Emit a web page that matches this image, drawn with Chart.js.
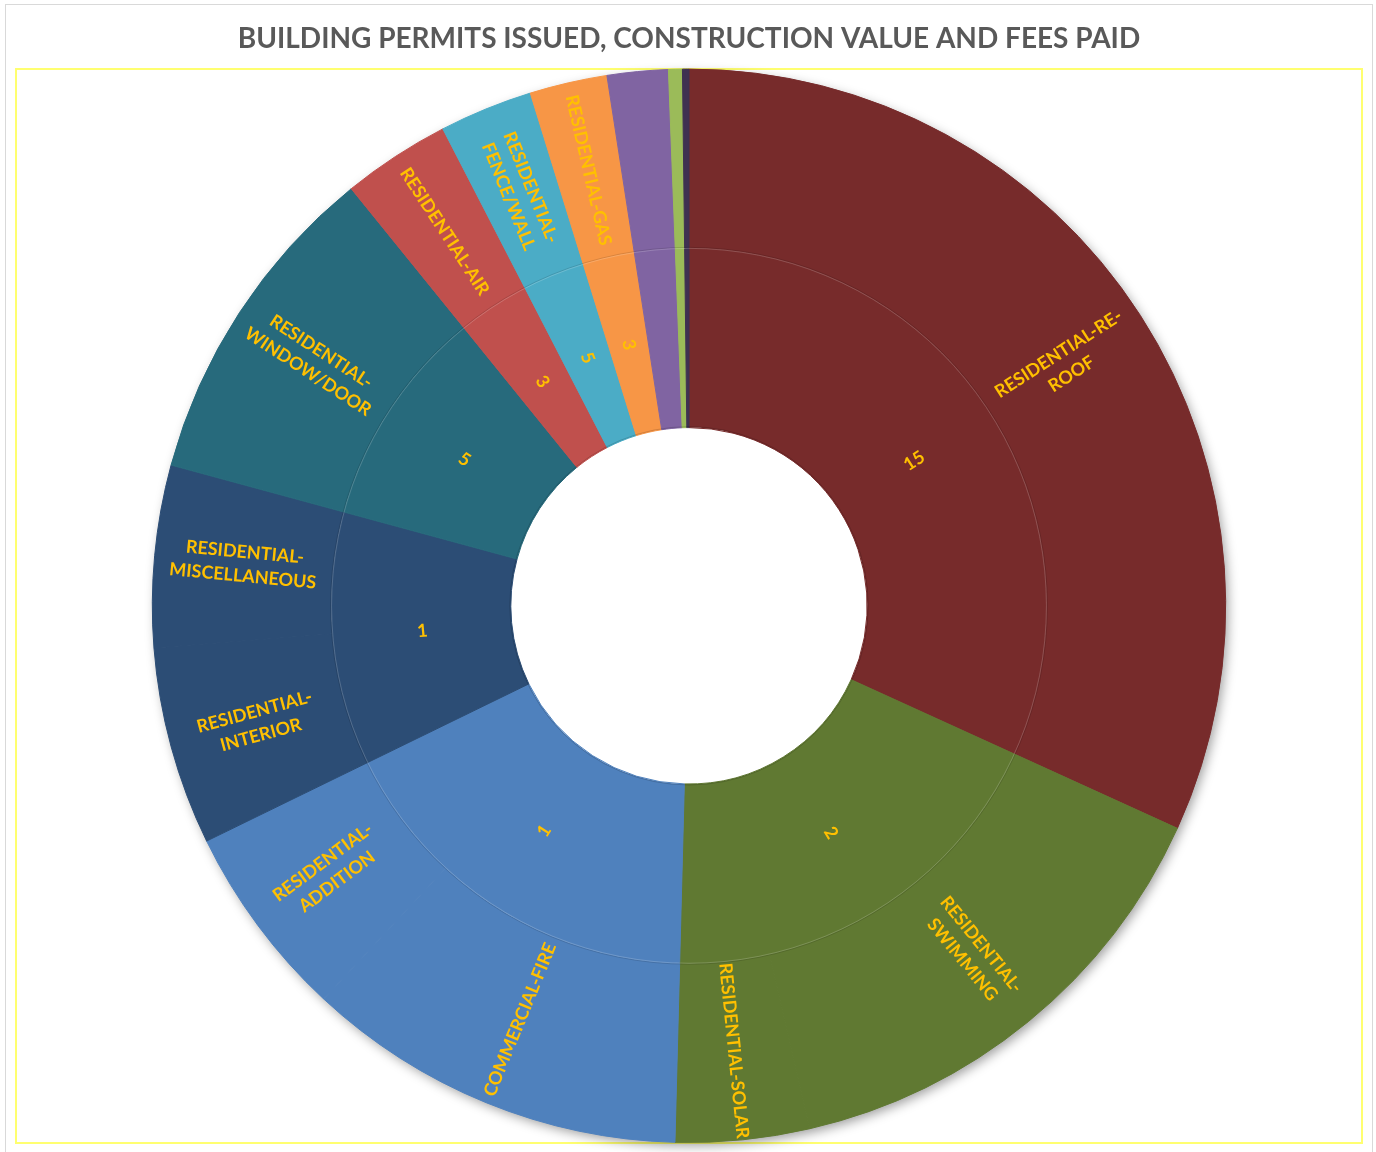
<!DOCTYPE html>
<html>
<head>
<meta charset="utf-8">
<script src="https://cdn.jsdelivr.net/npm/chart.js@4"></script>
<style>
  body { margin: 0; background: #fff; }
  #wrap { width: 1376px; height: 1152px; }
</style>
</head>
<body>
<div id="wrap"><canvas id="sunburst" width="1376" height="1152"></canvas></div>
<script>
// outer ring: permit types (share of construction value)
const typeLabels = [
    ['RESIDENTIAL-RE-', 'ROOF'],
    ['RESIDENTIAL-', 'SWIMMING'],
    ['RESIDENTIAL-SOLAR'],
    ['COMMERCIAL-FIRE'],
    ['RESIDENTIAL-', 'ADDITION'],
    ['RESIDENTIAL-', 'INTERIOR'],
    ['RESIDENTIAL-', 'MISCELLANEOUS'],
    ['RESIDENTIAL-', 'WINDOW/DOOR'],
    ['RESIDENTIAL-AIR'],
    ['RESIDENTIAL-', 'FENCE/WALL'],
    ['RESIDENTIAL-GAS'],
    [], [], []
];
const typeValues = [114.5, 52.5, 14.5, 41.4, 21.1, 21.5, 19.7, 35.8, 11.7, 10.1, 8.4, 6.6, 1.5, 0.7];
const typeColors = ['#772b2b', '#607932', '#607932', '#4f81bd', '#4f81bd', '#2c4d75', '#2c4d75',
    '#276a7c', '#c0504d', '#4bacc6', '#f79646', '#8064a2', '#9bbb59', '#3f3151'];

// inner ring: permits issued
const permitLabels = ['15', '2', '1', '1', '5', '3', '5', '3', '', '', ''];
const permitValues = [114.5, 67.0, 62.5, 41.2, 35.8, 11.7, 10.1, 8.4, 6.6, 1.5, 0.7];
const permitColors = ['#772b2b', '#607932', '#4f81bd', '#2c4d75', '#276a7c', '#c0504d',
    '#4bacc6', '#f79646', '#8064a2', '#9bbb59', '#3f3151'];

const labelFont = 'bold 18px Lato, "Open Sans", sans-serif';

const framePlugin = {
    id: 'frame',
    beforeDraw(chart) {
        const ctx = chart.ctx;
        ctx.save();
        ctx.strokeStyle = '#d9d9d9';
        ctx.lineWidth = 1;
        ctx.strokeRect(5.5, 4.5, 1367, 1160);
        ctx.strokeStyle = '#ffff70';
        ctx.lineWidth = 2;
        ctx.strokeRect(16, 69, 1346, 1074);
        ctx.restore();
    }
};

// soft drop shadow behind the whole sunburst, and a faint seam between the rings
const shadowPlugin = {
    id: 'ringShadow',
    beforeDatasetsDraw(chart) {
        const outer = chart.getDatasetMeta(0).data[0];
        if (!outer) return;
        const p = outer.getProps(['x', 'y', 'outerRadius'], true);
        const ctx = chart.ctx;
        ctx.save();
        ctx.shadowColor = 'rgba(0, 0, 0, 0.4)';
        ctx.shadowBlur = 12;
        ctx.shadowOffsetX = 3;
        ctx.shadowOffsetY = 4;
        ctx.fillStyle = '#ffffff';
        ctx.beginPath();
        ctx.arc(p.x, p.y, p.outerRadius - 1, 0, Math.PI * 2);
        ctx.fill();
        ctx.restore();
    },
    afterDatasetsDraw(chart) {
        const inner = chart.getDatasetMeta(1).data[0];
        if (!inner) return;
        const p = inner.getProps(['x', 'y', 'innerRadius', 'outerRadius'], true);
        const ctx = chart.ctx;
        ctx.save();
        ctx.lineWidth = 1;
        ctx.strokeStyle = 'rgba(0, 0, 0, 0.12)';
        ctx.beginPath();
        ctx.arc(p.x, p.y, p.outerRadius + 1, 0, Math.PI * 2);
        ctx.stroke();
        ctx.strokeStyle = 'rgba(255, 255, 255, 0.18)';
        ctx.beginPath();
        ctx.arc(p.x, p.y, p.outerRadius, 0, Math.PI * 2);
        ctx.stroke();
        ctx.strokeStyle = 'rgba(0, 0, 0, 0.15)';
        ctx.beginPath();
        ctx.arc(p.x, p.y, p.innerRadius + 1, 0, Math.PI * 2);
        ctx.stroke();
        ctx.restore();
    }
};

const labelPlugin = {
    id: 'ringLabels',
    afterDatasetsDraw(chart) {
        const ctx = chart.ctx;
        ctx.save();
        ctx.font = labelFont;
        ctx.fillStyle = '#ffc000';
        ctx.textAlign = 'center';
        ctx.textBaseline = 'middle';
        chart.data.datasets.forEach((ds, d) => {
            const meta = chart.getDatasetMeta(d);
            meta.data.forEach((arc, i) => {
                let lines = d === 0 ? typeLabels[i] : [permitLabels[i]];
                lines = lines.filter(t => t);
                if (!lines.length) return;
                const p = arc.getProps(['x', 'y', 'startAngle', 'endAngle', 'innerRadius', 'outerRadius'], true);
                const mid = (p.startAngle + p.endAngle) / 2;
                const r = (p.innerRadius + p.outerRadius) / 2;
                let rot = mid;
                if (Math.cos(rot) < 0) rot += Math.PI;
                ctx.save();
                ctx.translate(p.x + Math.cos(mid) * r, p.y + Math.sin(mid) * r);
                ctx.rotate(rot);
                const lh = 24;
                lines.forEach((t, k) => {
                    ctx.fillText(t, 0, (k - (lines.length - 1) / 2) * lh);
                });
                ctx.restore();
            });
        });
        ctx.restore();
    }
};

new Chart(document.getElementById('sunburst'), {
    type: 'doughnut',
    data: {
        labels: typeLabels.map(l => l.join('')),
        datasets: [
            {
                data: typeValues,
                backgroundColor: typeColors,
                borderColor: typeColors,
                borderWidth: 1
            },
            {
                data: permitValues,
                backgroundColor: permitColors,
                borderColor: permitColors,
                borderWidth: 1
            }
        ]
    },
    options: {
        responsive: false,
        animation: false,
        events: [],
        cutout: '33.2%',
        hoverOffset: 0,
        layout: {
            padding: { left: 16, right: 14, top: 0, bottom: 9 }
        },
        plugins: {
            legend: { display: false },
            tooltip: { enabled: false },
            title: {
                display: true,
                text: 'BUILDING PERMITS ISSUED, CONSTRUCTION VALUE AND FEES PAID',
                color: '#595959',
                font: { family: 'Lato, "Open Sans", sans-serif', size: 28, weight: 'bold' },
                padding: { top: 22, bottom: 13 }
            }
        }
    },
    plugins: [framePlugin, shadowPlugin, labelPlugin]
});
</script>
</body>
</html>
